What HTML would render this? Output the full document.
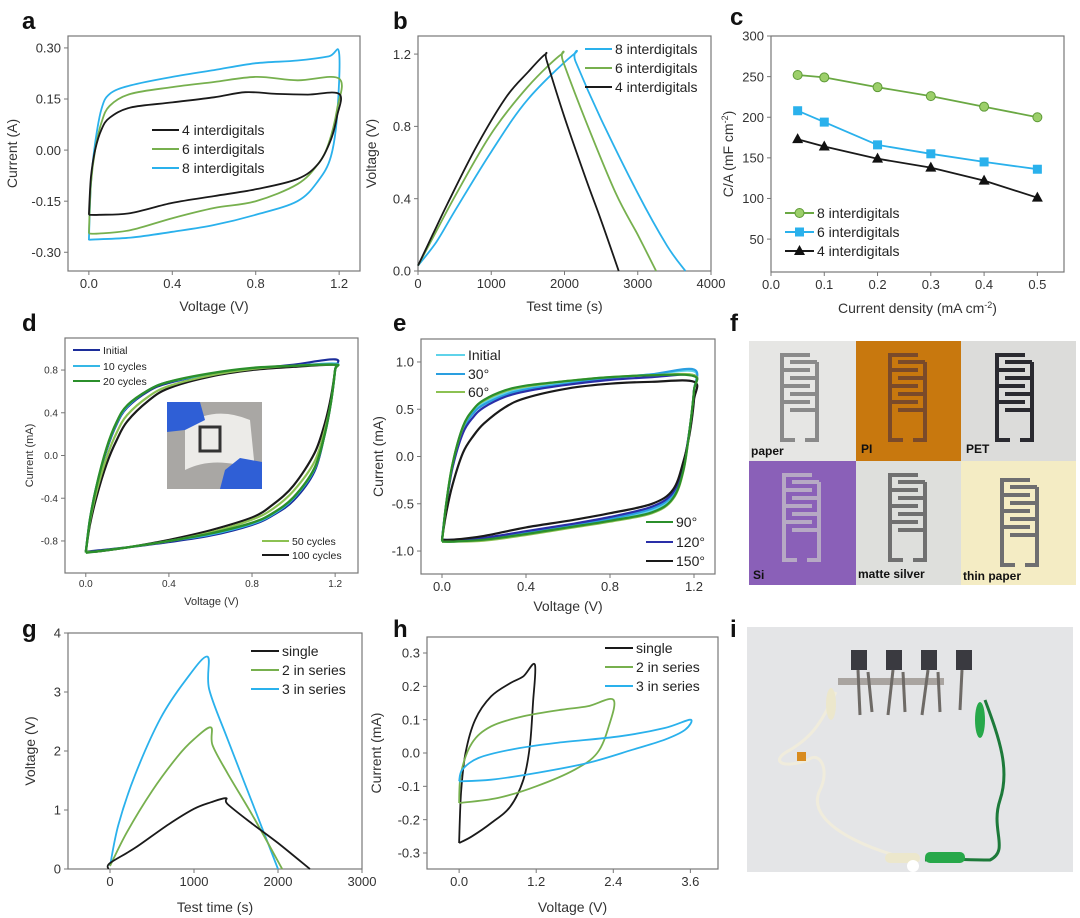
<!DOCTYPE html>
<html><head><meta charset="utf-8"><style>
html,body{margin:0;padding:0;background:#fff;}
svg{display:block;font-family:"Liberation Sans",Arial,sans-serif;}
</style></head><body>
<svg id="fig" width="1080" height="918" viewBox="0 0 1080 918" xmlns="http://www.w3.org/2000/svg">
<g id="letters" font-weight="bold" font-size="24" fill="#111">
<text x="22" y="29">a</text>
<text x="393" y="29">b</text>
<text x="730" y="25">c</text>
<text x="22" y="331">d</text>
<text x="393" y="331">e</text>
<text x="730" y="331">f</text>
<text x="22" y="637">g</text>
<text x="393" y="637">h</text>
<text x="730" y="637">i</text>
</g>
<g id="panelF">
<rect x="749" y="341" width="107" height="120" fill="#e6e6e4"/>
<rect x="856" y="341" width="105" height="120" fill="#c8780e"/>
<rect x="961" y="341" width="115" height="120" fill="#dcdcda"/>
<rect x="749" y="461" width="107" height="124" fill="#8a60b8"/>
<rect x="856" y="461" width="105" height="124" fill="#dedfdc"/>
<rect x="961" y="461" width="115" height="124" fill="#f4ecc4"/>
<g font-weight="bold" font-size="12" fill="#111">
<text x="751" y="455">paper</text>
<text x="861" y="453">PI</text>
<text x="966" y="453">PET</text>
<text x="753" y="579">Si</text>
<text x="858" y="578">matte silver</text>
<text x="963" y="580">thin paper</text>
</g>
</g>
<g id="panelI">
<rect x="747" y="627" width="326" height="245" fill="#e4e5e7"/>
<rect x="838" y="678" width="106" height="7" fill="#a9a4a0"/>
<g fill="#3a3a40">
<rect x="851" y="650" width="16" height="20"/><rect x="886" y="650" width="16" height="20"/><rect x="921" y="650" width="16" height="20"/><rect x="956" y="650" width="16" height="20"/>
</g>
<g stroke="#6e6a66" stroke-width="3">
<line x1="858" y1="670" x2="860" y2="715"/><line x1="868" y1="672" x2="872" y2="712"/>
<line x1="893" y1="670" x2="888" y2="715"/><line x1="903" y1="672" x2="905" y2="712"/>
<line x1="928" y1="670" x2="922" y2="715"/><line x1="938" y1="672" x2="940" y2="712"/>
<line x1="962" y1="670" x2="960" y2="710"/>
</g>
<path d="M836 692 C822 720 815 735 790 750 C770 760 780 770 808 760 C820 750 830 770 820 790 C800 830 900 860 920 860" fill="none" stroke="#f0ecdc" stroke-width="3"/>
<path d="M985 700 C1000 740 1010 770 1000 800 C990 830 1010 850 990 860 C960 860 950 858 925 860" fill="none" stroke="#1d7a3a" stroke-width="3"/>
<rect x="885" y="853" width="35" height="10" rx="5" fill="#ece7cc"/>
<rect x="925" y="852" width="40" height="11" rx="5" fill="#27a84a"/>
<circle cx="913" cy="866" r="6" fill="#ffffff"/>
<ellipse cx="980" cy="720" rx="5" ry="18" fill="#27a84a"/>
<ellipse cx="831" cy="704" rx="5" ry="16" fill="#ece7cc"/>
<rect x="797" y="752" width="9" height="9" fill="#d88b20"/>
</g>
<g id="plots"></g>
</svg>
<script>
// ---------- data ----------
const aSeries4 = [[0,-0.19],[0.01,-0.08],[0.03,0.0],[0.06,0.06],[0.1,0.095],[0.2,0.125],[0.4,0.14],[0.6,0.155],[0.75,0.17],[0.9,0.165],[1.05,0.163],[1.2,0.165],[1.19,0.1],[1.16,0.03],[1.1,-0.04],[1.0,-0.085],[0.8,-0.115],[0.6,-0.135],[0.4,-0.155],[0.2,-0.185],[0.05,-0.19],[0,-0.19]];
const aSeries6 = [[0,-0.245],[0.01,-0.1],[0.03,0.0],[0.06,0.08],[0.1,0.13],[0.2,0.165],[0.4,0.185],[0.6,0.2],[0.8,0.215],[1.0,0.205],[1.2,0.21],[1.19,0.12],[1.15,0.02],[1.1,-0.04],[1.0,-0.1],[0.8,-0.15],[0.6,-0.17],[0.4,-0.2],[0.2,-0.235],[0.05,-0.245],[0,-0.245]];
const aSeries8 = [[0,-0.265],[0.01,-0.1],[0.03,0.02],[0.06,0.12],[0.1,0.165],[0.2,0.19],[0.4,0.215],[0.6,0.235],[0.8,0.255],[1.0,0.263],[1.15,0.275],[1.2,0.285],[1.19,0.1],[1.16,-0.02],[1.1,-0.09],[1.0,-0.15],[0.8,-0.19],[0.6,-0.22],[0.4,-0.24],[0.2,-0.257],[0,-0.263]];
const aXTicks = [0,0.4,0.8,1.2];
const aXLabels = ["0.0","0.4","0.8","1.2"];
const aYTicks = [-0.3,-0.15,0,0.15,0.3];
const aYLabels = ["-0.30","-0.15","0.00","0.15","0.30"];
const bSeries4 = [[0,0.03],[200,0.2],[400,0.37],[800,0.69],[1200,0.96],[1500,1.1],[1740,1.2],[1760,1.16],[2000,0.85],[2300,0.5],[2500,0.28],[2740,0]];
const bSeries6 = [[0,0.03],[250,0.22],[500,0.41],[1000,0.76],[1500,1.02],[1960,1.2],[1980,1.16],[2300,0.82],[2700,0.43],[3000,0.2],[3250,0]];
const bSeries8 = [[0,0.03],[250,0.16],[500,0.33],[1000,0.66],[1500,0.95],[2130,1.2],[2150,1.16],[2500,0.84],[3000,0.43],[3400,0.14],[3650,0]];
const bXTicks = [0,1000,2000,3000,4000];
const bYTicks = [0,0.4,0.8,1.2];
const bYLabels = ["0.0","0.4","0.8","1.2"];
const cX = [0.05,0.1,0.2,0.3,0.4,0.5];
const c8 = [252,249,237,226,213,200];
const c6 = [208,194,166,155,145,136];
const c4 = [173,164,149,138,122,101];
const cXTicks = [0,0.1,0.2,0.3,0.4,0.5];
const cXLabels = ["0.0","0.1","0.2","0.3","0.4","0.5"];
const cYTicks = [50,100,150,200,250,300];
const dInitial = [[0,-0.9],[0.02,-0.6],[0.05,-0.3],[0.1,0.05],[0.15,0.3],[0.2,0.45],[0.3,0.6],[0.4,0.68],[0.6,0.76],[0.8,0.81],[1.0,0.85],[1.2,0.9],[1.2,0.8],[1.18,0.5],[1.15,0.2],[1.1,-0.15],[1.0,-0.42],[0.9,-0.56],[0.8,-0.65],[0.6,-0.75],[0.4,-0.81],[0.2,-0.86],[0.05,-0.89],[0,-0.9]];
const d10 = [[0,-0.9],[0.02,-0.6],[0.05,-0.3],[0.1,0.06],[0.15,0.31],[0.2,0.46],[0.3,0.61],[0.4,0.69],[0.6,0.76],[0.8,0.81],[1.0,0.84],[1.2,0.86],[1.2,0.8],[1.18,0.5],[1.15,0.2],[1.1,-0.13],[1.0,-0.4],[0.9,-0.55],[0.8,-0.64],[0.6,-0.74],[0.4,-0.8],[0.2,-0.86],[0.05,-0.9],[0,-0.9]];
const d20 = [[0,-0.91],[0.02,-0.6],[0.05,-0.3],[0.1,0.07],[0.15,0.32],[0.2,0.47],[0.3,0.61],[0.4,0.69],[0.6,0.77],[0.8,0.82],[1.0,0.84],[1.2,0.85],[1.2,0.8],[1.18,0.5],[1.15,0.2],[1.1,-0.12],[1.0,-0.39],[0.9,-0.54],[0.8,-0.63],[0.6,-0.73],[0.4,-0.8],[0.2,-0.86],[0.05,-0.9],[0,-0.91]];
const d50 = [[0,-0.9],[0.02,-0.62],[0.05,-0.35],[0.1,-0.02],[0.15,0.22],[0.2,0.38],[0.3,0.55],[0.4,0.65],[0.6,0.75],[0.8,0.81],[1.0,0.84],[1.2,0.85],[1.2,0.8],[1.18,0.5],[1.15,0.24],[1.1,-0.06],[1.0,-0.33],[0.9,-0.5],[0.8,-0.6],[0.6,-0.72],[0.4,-0.8],[0.2,-0.86],[0.05,-0.9],[0,-0.9]];
const d100 = [[0,-0.9],[0.02,-0.65],[0.05,-0.4],[0.1,-0.08],[0.15,0.15],[0.2,0.32],[0.3,0.51],[0.4,0.63],[0.6,0.74],[0.8,0.8],[1.0,0.83],[1.2,0.85],[1.2,0.8],[1.18,0.55],[1.15,0.3],[1.1,0.02],[1.0,-0.28],[0.9,-0.46],[0.8,-0.58],[0.6,-0.7],[0.4,-0.79],[0.2,-0.86],[0.05,-0.9],[0,-0.9]];
const dXTicks = [0,0.4,0.8,1.2];
const dXLabels = ["0.0","0.4","0.8","1.2"];
const dYTicks = [-0.8,-0.4,0,0.4,0.8];
const dYLabels = ["-0.8","-0.4","0.0","0.4","0.8"];
const eInitial = [[0,-0.89],[0.02,-0.5],[0.05,-0.1],[0.1,0.3],[0.15,0.48],[0.2,0.57],[0.3,0.67],[0.4,0.72],[0.6,0.78],[0.8,0.83],[1.0,0.87],[1.2,0.9],[1.2,0.7],[1.18,0.3],[1.15,-0.12],[1.1,-0.42],[1.0,-0.57],[0.8,-0.67],[0.6,-0.75],[0.4,-0.82],[0.2,-0.88],[0.05,-0.9],[0,-0.89]];
const e30 = [[0,-0.88],[0.02,-0.5],[0.05,-0.1],[0.1,0.28],[0.15,0.46],[0.2,0.55],[0.3,0.65],[0.4,0.71],[0.6,0.77],[0.8,0.83],[1.0,0.87],[1.2,0.92],[1.2,0.7],[1.18,0.3],[1.15,-0.1],[1.1,-0.4],[1.0,-0.55],[0.8,-0.66],[0.6,-0.74],[0.4,-0.81],[0.2,-0.87],[0.05,-0.89],[0,-0.88]];
const e60 = [[0,-0.9],[0.02,-0.5],[0.05,-0.08],[0.1,0.31],[0.15,0.5],[0.2,0.59],[0.3,0.69],[0.4,0.74],[0.6,0.8],[0.8,0.84],[1.0,0.86],[1.2,0.86],[1.2,0.7],[1.18,0.3],[1.15,-0.15],[1.1,-0.45],[1.0,-0.6],[0.8,-0.69],[0.6,-0.76],[0.4,-0.83],[0.2,-0.89],[0.05,-0.9],[0,-0.9]];
const e90 = [[0,-0.9],[0.02,-0.5],[0.05,-0.08],[0.1,0.32],[0.15,0.5],[0.2,0.6],[0.3,0.7],[0.4,0.75],[0.6,0.8],[0.8,0.84],[1.0,0.86],[1.2,0.85],[1.2,0.7],[1.18,0.3],[1.15,-0.14],[1.1,-0.44],[1.0,-0.59],[0.8,-0.68],[0.6,-0.75],[0.4,-0.82],[0.2,-0.88],[0.05,-0.9],[0,-0.9]];
const e120 = [[0,-0.88],[0.02,-0.52],[0.05,-0.12],[0.1,0.25],[0.15,0.42],[0.2,0.52],[0.3,0.63],[0.4,0.69],[0.6,0.76],[0.8,0.81],[1.0,0.84],[1.2,0.86],[1.2,0.7],[1.18,0.3],[1.15,-0.08],[1.1,-0.38],[1.0,-0.53],[0.8,-0.64],[0.6,-0.72],[0.4,-0.79],[0.2,-0.86],[0.05,-0.88],[0,-0.88]];
const e150 = [[0,-0.88],[0.02,-0.6],[0.05,-0.3],[0.1,0.04],[0.15,0.22],[0.2,0.35],[0.3,0.52],[0.4,0.62],[0.6,0.72],[0.8,0.77],[1.0,0.79],[1.2,0.79],[1.2,0.6],[1.18,0.25],[1.15,-0.05],[1.1,-0.35],[1.0,-0.5],[0.8,-0.6],[0.6,-0.68],[0.4,-0.75],[0.2,-0.84],[0.05,-0.88],[0,-0.88]];
const eXTicks = [0,0.4,0.8,1.2];
const eXLabels = ["0.0","0.4","0.8","1.2"];
const eYTicks = [-1,-0.5,0,0.5,1];
const eYLabels = ["-1.0","-0.5","0.0","0.5","1.0"];
const gSingle = [[-20,0],[0,0.1],[300,0.36],[700,0.76],[1000,1.02],[1200,1.13],[1380,1.2],[1400,1.1],[1700,0.76],[2000,0.44],[2380,0]];
const g2 = [[0,0.05],[200,0.62],[500,1.32],[800,1.9],[1000,2.2],[1200,2.4],[1220,2.1],[1400,1.62],[1700,0.9],[2050,0]];
const g3 = [[0,0.05],[100,0.75],[300,1.6],[600,2.55],[900,3.2],[1160,3.6],[1180,3.05],[1400,2.2],[1700,1.1],[2000,0]];
const gXTicks = [0,1000,2000,3000];
const gYTicks = [0,1,2,3,4];
const hSingle = [[0,-0.27],[0.03,-0.12],[0.1,0.0],[0.25,0.1],[0.5,0.17],[0.8,0.21],[1.0,0.23],[1.18,0.265],[1.15,0.15],[1.1,0.02],[1.0,-0.08],[0.8,-0.16],[0.5,-0.21],[0.2,-0.25],[0,-0.27]];
const h2 = [[0,-0.15],[0.03,-0.06],[0.2,0.03],[0.5,0.08],[1.0,0.11],[1.6,0.13],[2.0,0.14],[2.4,0.16],[2.33,0.08],[2.15,0.0],[1.8,-0.05],[1.2,-0.1],[0.6,-0.135],[0,-0.15]];
const h3 = [[0,-0.085],[0.05,-0.05],[0.3,-0.015],[0.8,0.01],[1.5,0.03],[2.5,0.05],[3.2,0.075],[3.6,0.1],[3.52,0.07],[3.2,0.04],[2.7,0.01],[2.0,-0.03],[1.2,-0.06],[0.5,-0.08],[0,-0.085]];
const hXTicks = [0,1.2,2.4,3.6];
const hXLabels = ["0.0","1.2","2.4","3.6"];
const hYTicks = [-0.3,-0.2,-0.1,0,0.1,0.2,0.3];
const hYLabels = ["-0.3","-0.2","-0.1","0.0","0.1","0.2","0.3"];

// ---------- drawing ----------
const NS = "http://www.w3.org/2000/svg";
const root = document.getElementById('plots');
function mk(tag, attrs, parent){ const e=document.createElementNS(NS,tag); for(const k in attrs) e.setAttribute(k,attrs[k]); (parent||root).appendChild(e); return e; }
function axes(o){
  const g = mk('g',{});
  
  
  const sx = v => o.x0 + (v - o.xmin)/(o.xmax - o.xmin)*(o.x1 - o.x0);
  const sy = v => o.y1 - (v - o.ymin)/(o.ymax - o.ymin)*(o.y1 - o.y0);
  const fr = mk('rect',{x:o.x0,y:o.y0,width:o.x1-o.x0,height:o.y1-o.y0,fill:'none',stroke:'#777','stroke-width':1.2},g);
  
  
  const fs = o.fs||13;
  o.xt.forEach((t,i)=>{
    const x=sx(t);
    mk('line',{x1:x,x2:x,y1:o.y1,y2:o.y1+4,stroke:'#777'},g);
    const tx=mk('text',{x:x,y:o.y1+fs+4,'font-size':fs,'text-anchor':'middle',fill:'#333'},g);
    tx.textContent = o.xl ? o.xl[i] : String(t);
    
    
  });
  o.yt.forEach((t,i)=>{
    const y=sy(t);
    mk('line',{x1:o.x0-4,x2:o.x0,y1:y,y2:y,stroke:'#777'},g);
    const tx=mk('text',{x:o.x0-7,y:y+fs*0.36,'font-size':fs,'text-anchor':'end',fill:'#333'},g);
    tx.textContent = o.yl ? o.yl[i] : String(t);
    
    
  });
  const xt=mk('text',{x:(o.x0+o.x1)/2,y:o.xty,'font-size':o.tfs||14,'text-anchor':'middle',fill:'#333'},g);
  xt.innerHTML=o.xtitle;
  
  
  const yc=(o.y0+o.y1)/2;
  const yt=mk('text',{x:o.ytx,y:yc,'font-size':o.tfs||14,'text-anchor':'middle',fill:'#333',transform:`rotate(-90 ${o.ytx} ${yc})`},g);
  yt.innerHTML=o.ytitle;
  
  
  return {g,sx,sy};
}
function smoothPath(P){
  let d='M'+P[0][0].toFixed(1)+','+P[0][1].toFixed(1);
  for(let i=0;i<P.length-1;i++){
    const p0=P[Math.max(i-1,0)], p1=P[i], p2=P[i+1], p3=P[Math.min(i+2,P.length-1)];
    const c1=[p1[0]+(p2[0]-p0[0])/6, p1[1]+(p2[1]-p0[1])/6];
    const c2=[p2[0]-(p3[0]-p1[0])/6, p2[1]-(p3[1]-p1[1])/6];
    d+=` C${c1[0].toFixed(1)},${c1[1].toFixed(1)} ${c2[0].toFixed(1)},${c2[1].toFixed(1)} ${p2[0].toFixed(1)},${p2[1].toFixed(1)}`;
  }
  return d;
}
function line(ax, pts, color, name, w, straight){
  const P=pts.map(q=>[ax.sx(q[0]),ax.sy(q[1])]);
  let p;
  if(straight) p=mk('polyline',{points:P.map(q=>q[0].toFixed(1)+','+q[1].toFixed(1)).join(' '),fill:'none',stroke:color,'stroke-width':w||1.8,'stroke-linejoin':'round'},ax.g);
  else p=mk('path',{d:smoothPath(P),fill:'none',stroke:color,'stroke-width':w||1.8,'stroke-linejoin':'round'},ax.g);
  
  
}
function legend(g, x1, x2, y, color, label, fs, name, marker){
  const lg=mk('g',{},g);
  
  
  mk('line',{x1:x1,x2:x2,y1:y,y2:y,stroke:color,'stroke-width':2},lg);
  if(marker) marker(lg,(x1+x2)/2,y);
  const t=mk('text',{x:x2+3,y:y+fs*0.36,'font-size':fs,fill:'#222'},lg);
  t.innerHTML=label;
}
const BLK='#1a1a1a', GRN='#77b04e', BLU='#2ab1ec';

const A=axes({name:'panel-a-chart',x0:68,x1:360,y0:36,y1:271,xmin:-0.1,xmax:1.3,ymin:-0.355,ymax:0.335,xt:aXTicks,xl:aXLabels,yt:aYTicks,yl:aYLabels,xty:311,ytx:17,xtitle:'Voltage (V)',ytitle:'Current (A)'});
line(A,aSeries8,BLU,'series-8-interdigitals');
line(A,aSeries6,GRN,'series-6-interdigitals');
line(A,aSeries4,BLK,'series-4-interdigitals');
legend(A.g,152,179,130,BLK,'4 interdigitals',14,'legend-4-interdigitals');
legend(A.g,152,179,149,GRN,'6 interdigitals',14,'legend-6-interdigitals');
legend(A.g,152,179,168,BLU,'8 interdigitals',14,'legend-8-interdigitals');

const B=axes({name:'panel-b-chart',x0:418,x1:711,y0:36,y1:271,xmin:0,xmax:4000,ymin:0,ymax:1.3,xt:bXTicks,yt:bYTicks,yl:bYLabels,xty:311,ytx:376,xtitle:'Test time (s)',ytitle:'Voltage (V)'});
line(B,bSeries8,BLU,'series-8-interdigitals');
line(B,bSeries6,GRN,'series-6-interdigitals');
line(B,bSeries4,BLK,'series-4-interdigitals');
legend(B.g,585,612,49,BLU,'8 interdigitals',14,'legend-8-interdigitals');
legend(B.g,585,612,68,GRN,'6 interdigitals',14,'legend-6-interdigitals');
legend(B.g,585,612,87,BLK,'4 interdigitals',14,'legend-4-interdigitals');

const C=axes({name:'panel-c-chart',x0:771,x1:1064,y0:36,y1:272,xmin:0,xmax:0.55,ymin:9.5,ymax:300,xt:cXTicks,xl:cXLabels,yt:cYTicks,xty:313,ytx:733,xtitle:'Current density (mA cm<tspan dy="-5" font-size="9">-2</tspan><tspan dy="5">)</tspan>',ytitle:'C/A (mF cm<tspan dy="-5" font-size="9">-2</tspan><tspan dy="5">)</tspan>'});
const circ=(g,x,y)=>mk('circle',{cx:x,cy:y,r:4.5,fill:'#9ccf6a',stroke:'#5e9a37','stroke-width':1},g);
const sq=(g,x,y)=>mk('rect',{x:x-4.5,y:y-4.5,width:9,height:9,fill:BLU},g);
const tri=(g,x,y)=>mk('polygon',{points:`${x},${y-6} ${x-5.5},${y+4} ${x+5.5},${y+4}`,fill:'#111'},g);
function scatterLine(vals,color,mark,name){
  line(C,cX.map((x,i)=>[x,vals[i]]),color,name,1.8,true);
  vals.forEach((v,i)=>{ const m=mark(C.g,C.sx(cX[i]),C.sy(v));   });
}
scatterLine(c8,'#6aa843',circ,'series-8-interdigitals');
scatterLine(c6,BLU,sq,'series-6-interdigitals');
scatterLine(c4,BLK,tri,'series-4-interdigitals');
legend(C.g,785,814,213,'#6aa843','8 interdigitals',14,'legend-8-interdigitals',circ);
legend(C.g,785,814,232,BLU,'6 interdigitals',14,'legend-6-interdigitals',sq);
legend(C.g,785,814,251,BLK,'4 interdigitals',14,'legend-4-interdigitals',tri);

const D=axes({name:'panel-d-chart',x0:65,x1:358,y0:338,y1:573,xmin:-0.1,xmax:1.31,ymin:-1.1,ymax:1.1,xt:dXTicks,xl:dXLabels,yt:dYTicks,yl:dYLabels,fs:10,tfs:11,xty:605,ytx:33,xtitle:'Voltage (V)',ytitle:'Current (mA)'});
line(D,dInitial,'#1c2d9a','series-initial',2.2);
line(D,d10,'#35b7e6','series-10-cycles',2.2);
line(D,d100,BLK,'series-100-cycles',2.2);
line(D,d50,'#8cc152','series-50-cycles',2.2);
line(D,d20,'#2b8f2b','series-20-cycles',2.4);
legend(D.g,73,100,350,'#1c2d9a','Initial',10.5,'legend-initial');
legend(D.g,73,100,366,'#35b7e6','10 cycles',10.5,'legend-10-cycles');
legend(D.g,73,100,381,'#2b8f2b','20 cycles',10.5,'legend-20-cycles');
legend(D.g,262,289,541,'#8cc152','50 cycles',10.5,'legend-50-cycles');
legend(D.g,262,289,555,BLK,'100 cycles',10.5,'legend-100-cycles');
const ins=mk('g',{},D.g);


mk('rect',{x:167,y:402,width:95,height:87,fill:'#a9a7a4'},ins);
mk('path',{d:'M185 425 Q215 405 250 420 L255 470 Q215 455 185 470 Z',fill:'#ecebe8'},ins);
mk('path',{d:'M167 402 L200 402 L205 420 L185 430 L167 432 Z',fill:'#2f5fd6'},ins);
mk('path',{d:'M220 489 L262 489 L262 462 L240 458 L225 470 Z',fill:'#2f5fd6'},ins);
mk('rect',{x:200,y:427,width:20,height:24,fill:'none',stroke:'#333','stroke-width':3},ins);

const E=axes({name:'panel-e-chart',x0:421,x1:715,y0:339,y1:574,xmin:-0.1,xmax:1.3,ymin:-1.243,ymax:1.243,xt:eXTicks,xl:eXLabels,yt:eYTicks,yl:eYLabels,xty:611,ytx:383,xtitle:'Voltage (V)',ytitle:'Current (mA)'});
line(E,eInitial,'#5fd3ea','series-initial',2.2);
line(E,e30,'#2a9fe0','series-30-deg',2.2);
line(E,e120,'#2a2fa8','series-120-deg',2.2);
line(E,e150,BLK,'series-150-deg',2.2);
line(E,e60,'#8cc152','series-60-deg',2.2);
line(E,e90,'#2b8f2b','series-90-deg',2.2);
legend(E.g,436,465,355,'#5fd3ea','Initial',14,'legend-initial');
legend(E.g,436,465,374,'#2a9fe0','30°',14,'legend-30-deg');
legend(E.g,436,465,392,'#8cc152','60°',14,'legend-60-deg');
legend(E.g,646,673,522,'#2b8f2b','90°',14,'legend-90-deg');
legend(E.g,646,673,542,'#2a2fa8','120°',14,'legend-120-deg');
legend(E.g,646,673,561,BLK,'150°',14,'legend-150-deg');

const G=axes({name:'panel-g-chart',x0:68,x1:362,y0:633,y1:869,xmin:-500,xmax:3000,ymin:0,ymax:4,xt:gXTicks,yt:gYTicks,xty:912,ytx:35,xtitle:'Test time (s)',ytitle:'Voltage (V)'});
line(G,g3,BLU,'series-3-in-series');
line(G,g2,GRN,'series-2-in-series');
line(G,gSingle,BLK,'series-single');
legend(G.g,251,279,651,BLK,'single',14,'legend-single');
legend(G.g,251,279,670,GRN,'2 in series',14,'legend-2-in-series');
legend(G.g,251,279,689,BLU,'3 in series',14,'legend-3-in-series');

const H=axes({name:'panel-h-chart',x0:427,x1:718,y0:637,y1:869,xmin:-0.5,xmax:4.03,ymin:-0.348,ymax:0.348,xt:hXTicks,xl:hXLabels,yt:hYTicks,yl:hYLabels,xty:912,ytx:381,xtitle:'Voltage (V)',ytitle:'Current (mA)'});
line(H,hSingle,BLK,'series-single');
line(H,h2,GRN,'series-2-in-series');
line(H,h3,BLU,'series-3-in-series');
legend(H.g,605,633,648,BLK,'single',14,'legend-single');
legend(H.g,605,633,667,GRN,'2 in series',14,'legend-2-in-series');
legend(H.g,605,633,686,BLU,'3 in series',14,'legend-3-in-series');

const fTiles=[[770,350,'#8a8a8a'],[878,350,'#7a4a2a'],[985,350,'#2a2a30'],[772,470,'#b6a9c4'],[878,470,'#707070'],[990,475,'#6e6e70']];
const fG=document.getElementById('panelF');
fTiles.forEach(t=>{
  const [x,y,c]=t;
  const e=mk('g',{},fG);
  
  
  mk('path',{d:`M${x+40} ${y+5} L${x+12} ${y+5} L${x+12} ${y+90} L${x+25} ${y+90} M${x+12} ${y+20} L${x+40} ${y+20} M${x+12} ${y+36} L${x+40} ${y+36} M${x+12} ${y+52} L${x+40} ${y+52} M${x+47} ${y+12} L${x+47} ${y+90} L${x+35} ${y+90} M${x+47} ${y+12} L${x+20} ${y+12} M${x+47} ${y+28} L${x+20} ${y+28} M${x+47} ${y+44} L${x+20} ${y+44} M${x+47} ${y+60} L${x+20} ${y+60}`,fill:'none',stroke:c,'stroke-width':4},e);
});
</script>
</body></html>
